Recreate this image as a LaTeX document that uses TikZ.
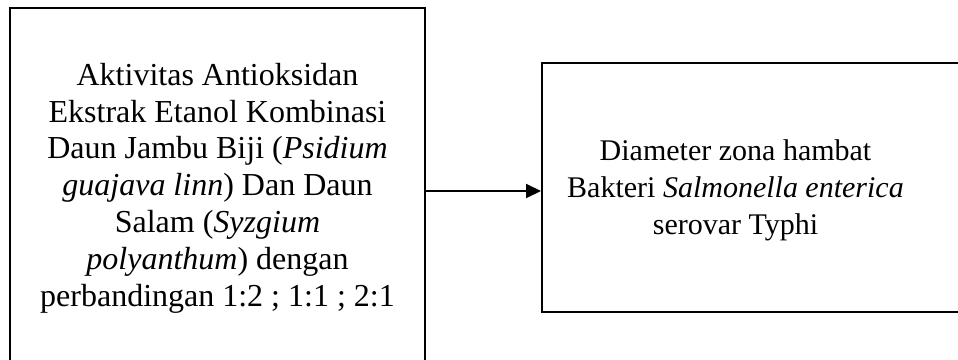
\documentclass[tikz,border=0pt]{standalone}
\usepackage{fontspec}
\setmainfont{Liberation Serif}
\usetikzlibrary{arrows.meta}
\begin{document}
\begin{tikzpicture}[x=1pt,y=1pt,
  boxnode/.style={draw=black,line width=2pt,inner sep=0pt},
  txt/.style={align=center,font=\fontsize{32}{36.8}\selectfont,inner sep=0pt},
  txtr/.style={align=center,font=\fontsize{30}{37}\selectfont,inner sep=0pt},
  conn/.style={line width=2pt,-{Triangle[length=15pt,width=14pt]}}]
\useasboundingbox (0,0) rectangle (958,-359);
\clip (0,0) rectangle (958,-359);
\node[boxnode,minimum width=415pt,minimum height=366pt] (l) at (217.5,-191) {};
\node[txt] (lt) at (217.5,-188) {Aktivitas Antioksidan\\Ekstrak Etanol Kombinasi\\Daun Jambu Biji (\textit{Psidium}\\\textit{guajava linn}) Dan Daun\\Salam (\textit{Syzgium}\\\textit{polyanthum}) dengan\\perbandingan 1:2 ; 1:1 ; 2:1};
\node[boxnode,minimum width=440pt,minimum height=249pt] (r) at (762,-187.7) {};
\node[txtr] (rt) at (735.5,-190) {Diameter zona hambat\\Bakteri \textit{Salmonella enterica}\\serovar Typhi};
\draw[conn] (l.east) -- (l.east -| r.west);
\end{tikzpicture}
\end{document}
